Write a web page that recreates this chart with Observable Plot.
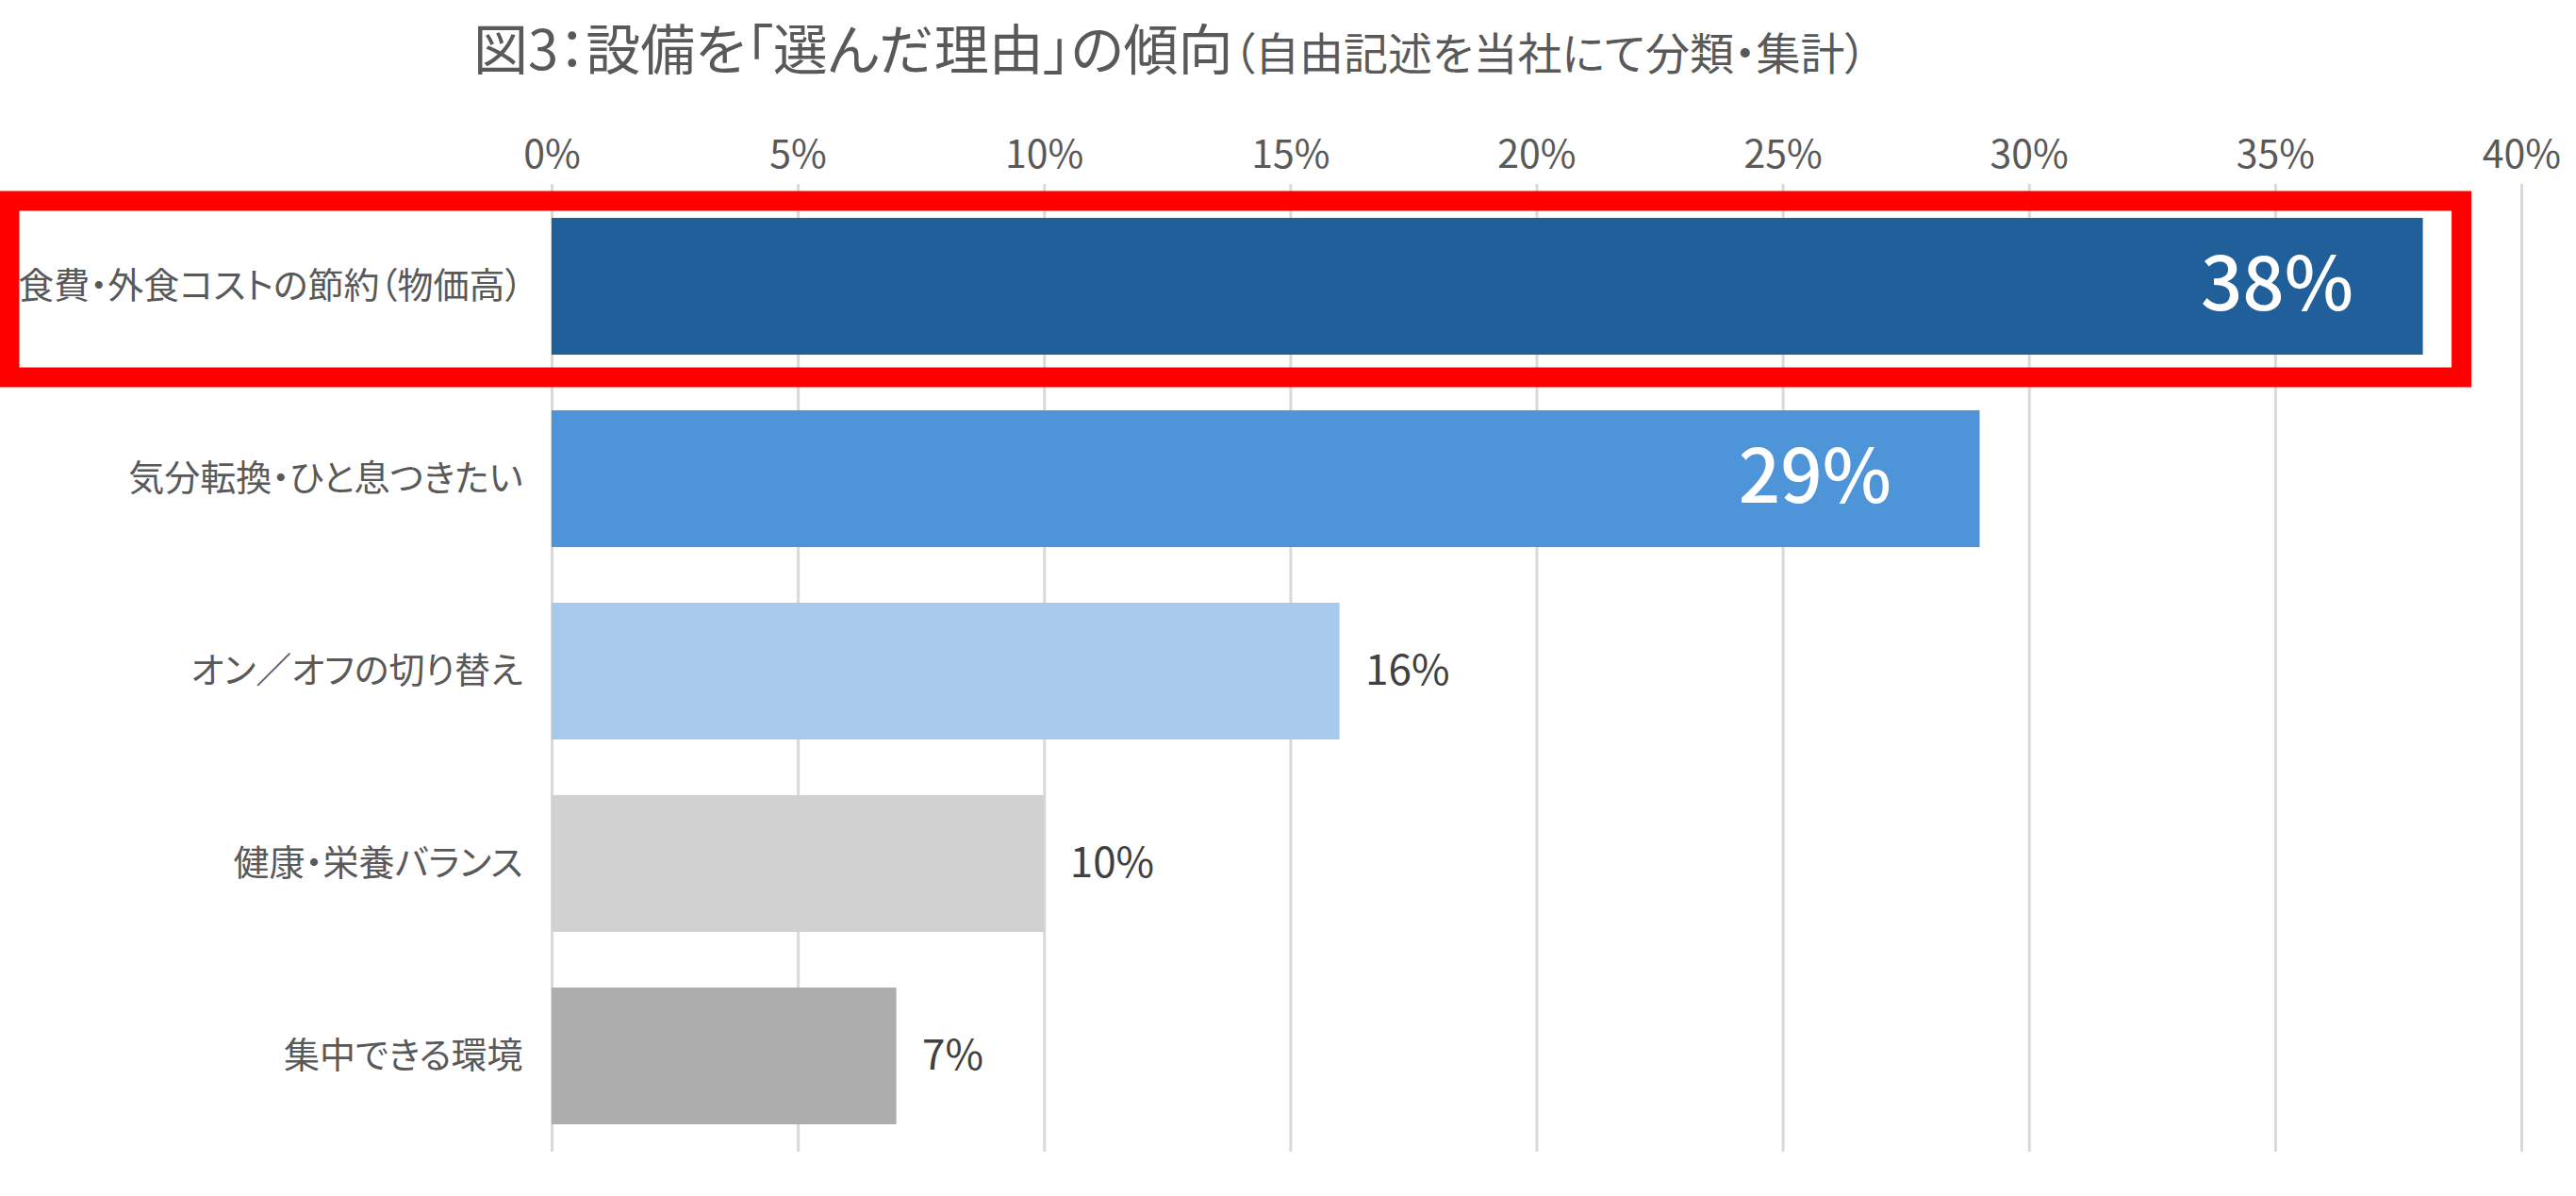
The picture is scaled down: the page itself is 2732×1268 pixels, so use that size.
<!DOCTYPE html>
<html lang="ja">
<head>
<meta charset="utf-8">
<script src="https://cdn.jsdelivr.net/npm/d3@7"></script>
<script src="https://cdn.jsdelivr.net/npm/@observablehq/plot@0.6"></script>
<style>
  html, body { margin: 0; padding: 0; background: #ffffff; }
  #wrap { position: relative; width: 2732px; height: 1268px; overflow: hidden; font-family: "Noto Sans CJK JP", "Noto Sans", sans-serif; }
  #title { position: absolute; left: 502px; top: 20px; white-space: nowrap; color: #595959; font-size: 58px; line-height: 58px; font-feature-settings: "palt"; }
  #title .sub { font-size: 47px; }
  #chart { position: absolute; left: 0; top: 0; }
  #chart svg [aria-label="y-axis tick label"] text { font-feature-settings: "palt"; }
</style>
</head>
<body>
<div id="wrap">
  <div id="title">図3：設備を「選んだ理由」の傾向<span class="sub">（自由記述を当社にて分類・集計）</span></div>
  <div id="chart"></div>
</div>
<script>
const categories = [
  "食費・外食コストの節約（物価高）",
  "気分転換・ひと息つきたい",
  "オン／オフの切り替え",
  "健康・栄養バランス",
  "集中できる環境"
];
const values = [38, 29, 16, 10, 7];
const barColors = ["#215F9A", "#4E94D8", "#A6C9EC", "#D1D1D1", "#ADADAD"];
const xTicks = [0, 5, 10, 15, 20, 25, 30, 35, 40];
const highlighted = ["食費・外食コストの節約（物価高）"];

const data = categories.map((c, i) => ({category: c, value: values[i]}));
const insideLabels = data.filter(d => d.value >= 20);
const outsideLabels = data.filter(d => d.value < 20);

const font = "Noto Sans CJK JP, Noto Sans, sans-serif";

const chart = Plot.plot({
  width: 2732,
  height: 1268,
  marginLeft: 585,
  marginRight: 58,
  marginTop: 195,
  marginBottom: 47,
  style: {fontFamily: font, background: "transparent"},
  x: {domain: [0, 40], ticks: xTicks},
  y: {domain: categories, range: [171, 1252], padding: 0.29, label: null},
  color: {domain: categories, range: barColors},
  marks: [
    Plot.gridX(xTicks, {stroke: "#D9D9D9", strokeOpacity: 1, strokeWidth: 3}),
    Plot.barX(data, {x: "value", y: "category", fill: "category"}),
    Plot.axisX(xTicks, {anchor: "top", tickSize: 0, tickPadding: 18, tickFormat: d => d + "%", fontSize: 41, fill: "#595959", label: null}),
    Plot.axisY({tickSize: 0, tickPadding: 31, fontSize: 38, fill: "#595959", label: null}),
    Plot.text(insideLabels.slice(0, 1), {x: "value", y: "category", text: d => d.value + "%", textAnchor: "end", dx: -74, fill: "#ffffff", fontSize: 78, fontWeight: 500}),
    Plot.text(insideLabels.slice(1), {x: "value", y: "category", text: d => d.value + "%", textAnchor: "end", dx: -94, fill: "#ffffff", fontSize: 78, fontWeight: 500}),
    Plot.text(outsideLabels, {x: "value", y: "category", text: d => d.value + "%", textAnchor: "start", dx: 27, fill: "#404040", fontSize: 44}),
    Plot.barX(data.filter(d => highlighted.includes(d.category)), {
      x1: 0, x2: "value", y: "category", fill: "none", stroke: "#FF0000", strokeWidth: 21,
      insetLeft: -575, insetRight: -41, insetTop: -18, insetBottom: -24
    })
  ]
});
document.getElementById("chart").appendChild(chart);
</script>
</body>
</html>
